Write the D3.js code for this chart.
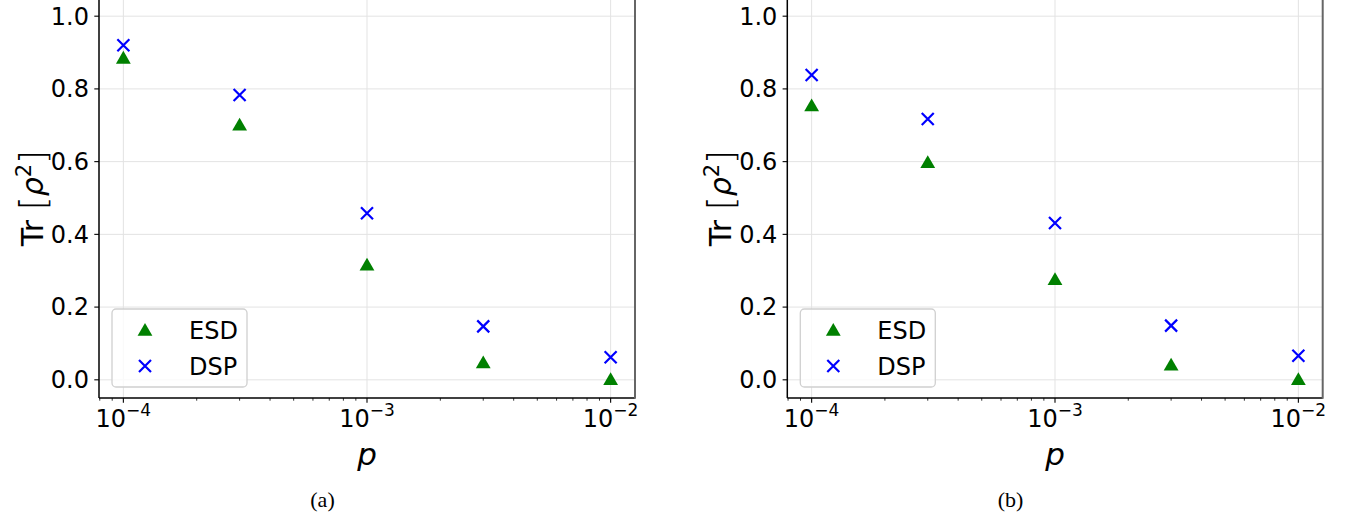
<!DOCTYPE html>
<html>
<head>
<meta charset="utf-8">
<script src="https://cdn.jsdelivr.net/npm/d3@7"></script>
<style>
  body { margin: 0; background: #fff; }
  svg { display: block; font-family: "DejaVu Sans", sans-serif; }
  .grid line { stroke: #e3e3e3; stroke-width: 1; }
</style>
</head>
<body>
<svg id="chart" width="1359" height="520"></svg>
<script>
// values
const pValues = [1e-4, 3e-4, 1e-3, 3e-3, 1e-2];
const esdA = [0.884, 0.700, 0.315, 0.046, 0.000];
const dspA = [0.920, 0.783, 0.458, 0.147, 0.062];
const esdB = [0.753, 0.597, 0.275, 0.040, 0.000];
const dspB = [0.838, 0.717, 0.431, 0.149, 0.066];
const yTicks = [0.0, 0.2, 0.4, 0.6, 0.8, 1.0];
const xTicks = [1e-4, 1e-3, 1e-2];
const seriesNames = ["ESD", "DSP"];
const captions = ["(a)", "(b)"];

const svg = d3.select("#chart");
const green = "#008000", blue = "#0000ff";

function drawPanel(left, right, esd, dsp, caption) {
    const top = -2, bottom = 398;
    const x = d3.scaleLog().domain([Math.pow(10, -4.1), Math.pow(10, -1.9)]).range([left, right]);
    const y = d3.scaleLinear().domain([-0.05, 1.05]).range([bottom, top]);
    const g = svg.append("g");

    // grid
    const grid = g.append("g").attr("class", "grid");
    grid.selectAll(".hy").data(yTicks).enter().append("line")
        .attr("x1", left).attr("x2", right)
        .attr("y1", d => y(d)).attr("y2", d => y(d));
    grid.selectAll(".vx").data(xTicks).enter().append("line")
        .attr("x1", d => x(d)).attr("x2", d => x(d))
        .attr("y1", top).attr("y2", bottom);

    // minor x ticks
    const minors = [];
    for (let e = -5; e <= -2; e++) {
        for (let m = 2; m <= 9; m++) {
            const v = m * Math.pow(10, e);
            if (v > x.domain()[0] && v < x.domain()[1]) minors.push(v);
        }
    }
    g.selectAll(".minor").data(minors).enter().append("line")
        .attr("x1", d => x(d)).attr("x2", d => x(d))
        .attr("y1", bottom).attr("y2", bottom + 2.7)
        .attr("stroke", "#000").attr("stroke-width", 0.8);

    // major x ticks + labels
    const xt = g.selectAll(".xt").data(xTicks).enter().append("g")
        .attr("transform", d => "translate(" + x(d) + "," + bottom + ")");
    xt.append("line").attr("y2", 4.7).attr("stroke", "#000").attr("stroke-width", 1.1);
    const xl = xt.append("text").attr("y", 29).attr("text-anchor", "middle")
        .attr("font-size", 24).attr("fill", "#000");
    xl.append("tspan").text("10");
    xl.append("tspan").attr("font-size", 17).attr("dy", -11)
        .text(d => "\u2212" + Math.round(-Math.log10(d)));

    // y ticks + labels
    const yt = g.selectAll(".yt").data(yTicks).enter().append("g")
        .attr("transform", d => "translate(" + left + "," + y(d) + ")");
    yt.append("line").attr("x2", -4.7).attr("stroke", "#000").attr("stroke-width", 1.1);
    yt.append("text").attr("x", -10).attr("dy", "0.35em").attr("text-anchor", "end")
        .attr("font-size", 24).attr("fill", "#000").text(d => d.toFixed(1));

    // spines
    g.append("line").attr("x1", left).attr("x2", left).attr("y1", top).attr("y2", bottom)
        .attr("stroke", "#000").attr("stroke-width", 1.5);
    g.append("line").attr("x1", left).attr("x2", right).attr("y1", bottom).attr("y2", bottom)
        .attr("stroke", "#000").attr("stroke-width", 1.5);
    g.append("line").attr("x1", right).attr("x2", right).attr("y1", top).attr("y2", bottom + 0.75)
        .attr("stroke", "#666").attr("stroke-width", 2);

    // markers
    const tri = d3.symbol().type(d3.symbolTriangle).size(95);
    g.selectAll(".esd").data(esd).enter().append("path")
        .attr("d", tri)
        .attr("transform", (d, i) => "translate(" + x(pValues[i]) + "," + (y(d) + 1) + ")")
        .attr("fill", green);
    const s = 6;
    const cross = "M" + (-s) + "," + (-s) + "L" + s + "," + s + "M" + (-s) + "," + s + "L" + s + "," + (-s);
    g.selectAll(".dsp").data(dsp).enter().append("path")
        .attr("d", cross)
        .attr("transform", (d, i) => "translate(" + x(pValues[i]) + "," + y(d) + ")")
        .attr("stroke", blue).attr("stroke-width", 2.2).attr("fill", "none");

    // legend
    const lg = g.append("g").attr("transform", "translate(" + (left + 13) + ",309)");
    lg.append("rect").attr("width", 135).attr("height", 78).attr("rx", 4)
        .attr("fill", "#fff").attr("fill-opacity", 0.8)
        .attr("stroke", "#d0d0d0").attr("stroke-width", 1.3);
    lg.append("path").attr("d", tri).attr("transform", "translate(33,22.5)").attr("fill", green);
    lg.append("path").attr("d", cross)
        .attr("transform", "translate(33,57)")
        .attr("stroke", blue).attr("stroke-width", 2.2).attr("fill", "none");
    lg.selectAll(".lt").data(seriesNames).enter().append("text")
        .attr("x", 77).attr("y", (d, i) => 30 + i * 35.5)
        .attr("font-size", 24).attr("fill", "#000").text(d => d);

    // axis labels
    g.append("text").attr("x", (left + right) / 2).attr("y", 465)
        .attr("text-anchor", "middle").attr("font-size", 31).attr("font-style", "italic")
        .attr("fill", "#000").text("p");
    const yl = g.append("text")
        .attr("transform", "translate(" + (left - 56) + "," + ((top + bottom) / 2) + ") rotate(-90)")
        .attr("text-anchor", "middle").attr("font-size", 30).attr("fill", "#000");
    yl.append("tspan").text("Tr ");
    yl.append("tspan").attr("font-size", 36).attr("font-weight", 300).attr("dy", 2).text("[");
    yl.append("tspan").attr("font-style", "italic").attr("dy", -2).text("\u03c1");
    yl.append("tspan").attr("font-size", 21).attr("dy", -12).text("2");
    yl.append("tspan").attr("font-size", 36).attr("font-weight", 300).attr("dy", 14).text("]");

    // caption
    g.append("text").attr("x", left + 0.417 * (right - left)).attr("y", 507)
        .attr("text-anchor", "middle").attr("font-size", 22)
        .attr("font-family", "'Liberation Serif', serif").attr("fill", "#000").text(caption);
}

drawPanel(99, 635, esdA, dspA, captions[0]);
drawPanel(787.3, 1322.7, esdB, dspB, captions[1]);
</script>
</body>
</html>
